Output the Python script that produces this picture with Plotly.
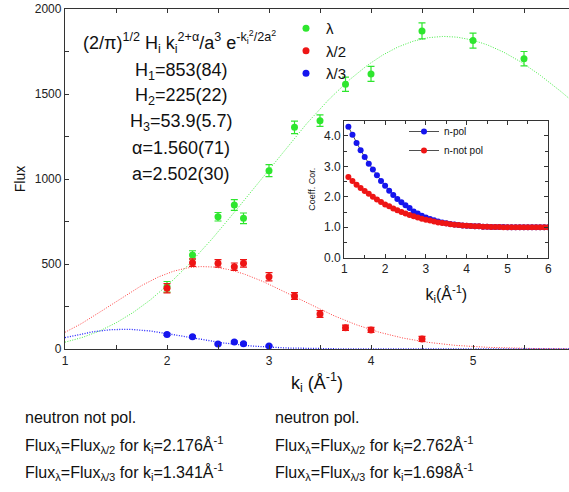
import numpy as np
import plotly.graph_objects as go

# ---------------- data ----------------
green_k = [2.0, 2.25, 2.5, 2.66, 2.75, 3.0, 3.25, 3.5, 3.75, 4.0, 4.5, 5.0, 5.5]
green_flux = [366, 553, 778, 847, 769, 1049, 1304, 1343, 1557, 1618, 1871, 1814, 1708]
green_err = [31, 25, 25, 32, 31, 35, 37, 34, 42, 44, 47, 44, 42]

red_k = [2.0, 2.25, 2.5, 2.66, 2.75, 3.0, 3.25, 3.5, 3.75, 4.0, 4.5]
red_flux = [357, 508, 504, 484, 504, 425, 312, 206, 125, 112, 59]
red_err = [27, 22, 22, 22, 22, 24, 20, 20, 15, 15, 15]

blue_k = [2.0, 2.25, 2.5, 2.66, 2.75, 3.0]
blue_flux = [86, 72, 29, 41, 31, 18]
blue_err = [6, 6, 5, 5, 5, 4]

# fit parameters shown on the chart
H1, H2, H3 = 853, 225, 53.9
ALPHA = 1.560
A_PAR = 2.502

# inset: correction coefficients
inset_k = [round(1.1 + 0.1 * i, 1) for i in range(50)]
npol = [4.30, 4.04, 3.77, 3.53, 3.31, 3.09, 2.90, 2.71, 2.52, 2.36,
        2.20, 2.06, 1.93, 1.82, 1.72, 1.63, 1.52, 1.45, 1.38, 1.32,
        1.27, 1.23, 1.19, 1.16, 1.13, 1.11, 1.09, 1.07, 1.06, 1.05,
        1.04, 1.03, 1.03, 1.02, 1.02, 1.01, 1.01, 1.01, 1.01, 1.00,
        1.00, 1.00, 1.00, 1.00, 1.00, 1.00, 1.00, 1.00, 1.00, 1.00]
nnotpol = [2.65, 2.52, 2.40, 2.29, 2.19, 2.10, 2.00, 1.91, 1.83, 1.75,
           1.69, 1.62, 1.56, 1.50, 1.45, 1.40, 1.36, 1.32, 1.28, 1.25,
           1.22, 1.19, 1.16, 1.14, 1.12, 1.10, 1.08, 1.07, 1.06, 1.05,
           1.04, 1.03, 1.03, 1.02, 1.02, 1.01, 1.01, 1.01, 1.00, 1.00,
           1.00, 1.00, 1.00, 1.00, 1.00, 1.00, 1.00, 1.00, 1.00, 1.00]

GREEN = "#2ee62e"
RED = "#ee1515"
BLUE = "#1515ee"
FONT = "Liberation Sans, Arial, sans-serif"
DOT = "1px,1.5px"


def model(k, H):
    return (np.sqrt(2 / np.pi) * H * k ** (2 + ALPHA) / A_PAR ** 3
            * np.exp(-k ** 2 / (2 * A_PAR ** 2)))


XMAX = 1 + 504 / 102
kk = np.linspace(1, XMAX, 300)

fig = go.Figure()

# fit curves
fig.add_trace(go.Scatter(x=kk, y=model(kk, H1), mode="lines", showlegend=False,
                         line=dict(color="#44ee44", width=1, dash=DOT)))
fig.add_trace(go.Scatter(x=kk, y=model(2 * kk, H2), mode="lines", showlegend=False,
                         line=dict(color="#ff4040", width=1, dash=DOT)))
fig.add_trace(go.Scatter(x=kk, y=model(3 * kk, H3), mode="lines", showlegend=False,
                         line=dict(color="#2020ff", width=1.3, dash=DOT)))

# data
for name, xs, ys, es, col in [("λ", green_k, green_flux, green_err, GREEN),
                              ("λ/2", red_k, red_flux, red_err, RED),
                              ("λ/3", blue_k, blue_flux, blue_err, BLUE)]:
    fig.add_trace(go.Scatter(
        x=xs, y=ys, mode="markers", name=name,
        marker=dict(color=col, size=7),
        error_y=dict(type="data", array=es, color=col, thickness=1.2, width=3.5),
    ))

# inset
fig.add_trace(go.Scatter(x=inset_k, y=npol, mode="lines+markers", name="n-pol",
                         xaxis="x2", yaxis="y2", legend="legend2",
                         line=dict(color="#222222", width=0.8),
                         marker=dict(color=BLUE, size=6)))
fig.add_trace(go.Scatter(x=inset_k, y=nnotpol, mode="lines+markers", name="n-not pol",
                         xaxis="x2", yaxis="y2", legend="legend2",
                         line=dict(color="#222222", width=0.8),
                         marker=dict(color=RED, size=6)))

L, T, B = 65, 9, 143
PW, PH = 504, 340
W, H = 569, 492


def px(x):
    return (x - L) / PW


def py(y):
    return (T + PH - y) / PH


ann = []
ann.append(dict(x=px(179), y=py(42),
                text="(2/π)<sup>1/2</sup> H<sub>i</sub> k<sub>i</sub><sup>2+α</sup>/a<sup>3</sup> e<sup>-k<sub>i</sub><sup>2</sup>/2a<sup>2</sup></sup>",
                font=dict(size=18)))
for yy, txt in [(71, "H<sub>1</sub>=853(84)"), (96, "H<sub>2</sub>=225(22)"),
                (122, "H<sub>3</sub>=53.9(5.7)"), (148, "α=1.560(71)"),
                (174, "a=2.502(30)")]:
    ann.append(dict(x=px(181), y=py(yy), text=txt, font=dict(size=18)))

for xx, lines in [(23, ["neutron not pol.",
                        "Flux<sub>λ</sub>=Flux<sub>λ/2</sub> for k<sub>i</sub>=2.176Å<sup>-1</sup>",
                        "Flux<sub>λ</sub>=Flux<sub>λ/3</sub> for k<sub>i</sub>=1.341Å<sup>-1</sup>"]),
                  (273, ["neutron pol.",
                         "Flux<sub>λ</sub>=Flux<sub>λ/2</sub> for k<sub>i</sub>=2.762Å<sup>-1</sup>",
                         "Flux<sub>λ</sub>=Flux<sub>λ/3</sub> for k<sub>i</sub>=1.698Å<sup>-1</sup>"])]:
    for yy, txt in zip([417, 445, 472], lines):
        ann.append(dict(x=px(xx), y=py(yy), text=txt, xanchor="left",
                        font=dict(size=16)))

for a in ann:
    a.setdefault("xanchor", "center")
    a.update(xref="paper", yref="paper", yanchor="middle", showarrow=False)
    a["font"].update(color="#111111", family=FONT)

axis_common = dict(showline=True, linecolor="#333333", linewidth=1.3,
                   ticks="inside", ticklen=4, tickcolor="#333333",
                   showgrid=False, zeroline=False, automargin=False,
                   tickfont=dict(size=12, color="#222222", family=FONT))

fig.update_layout(
    width=W, height=H,
    margin=dict(l=L, r=0, t=T, b=B, autoexpand=False),
    paper_bgcolor="white", plot_bgcolor="white",
    font=dict(family=FONT, color="#111111"),
    annotations=ann,
    xaxis=dict(range=[1, XMAX], tick0=1, dtick=1, mirror="ticks",
               minor=dict(dtick=0.5, ticks="inside", ticklen=4, tickcolor="#333333"),
               title=dict(text="k<sub>i</sub> (Å<sup>-1</sup>)", standoff=9,
                          font=dict(size=18, family=FONT, color="#111111")),
               **axis_common),
    yaxis=dict(range=[0, 2000], dtick=500, ticklabeloverflow="allow",
               minor=dict(dtick=250, ticks="inside", ticklen=4, tickcolor="#333333"),
               title=dict(text="Flux", standoff=5,
                          font=dict(size=14, family=FONT, color="#111111")),
               **axis_common),
    xaxis2=dict(domain=[px(344.3), px(548.3)], anchor="y2", range=[1, 6], dtick=1,
                mirror="ticks",
                minor=dict(dtick=0.5, ticks="inside", ticklen=3, tickcolor="#333333"),
                title=dict(text="k<sub>i</sub>(Å<sup>-1</sup>)", standoff=13,
                           font=dict(size=16, family=FONT, color="#111111")),
                **axis_common),
    yaxis2=dict(domain=[py(257.7), py(120.7)], anchor="x2", range=[0, 4.5], dtick=1,
                tickformat=".1f", mirror="ticks",
                minor=dict(dtick=0.5, ticks="inside", ticklen=3, tickcolor="#333333"),
                title=dict(text="Coeff. Cor.", standoff=6,
                           font=dict(size=9, family=FONT, color="#111111")),
                **axis_common),
    legend=dict(x=px(286), y=py(12), xanchor="left", yanchor="top",
                bgcolor="rgba(0,0,0,0)", font=dict(size=15, family=FONT, color="#111111"),
                itemwidth=30, tracegroupgap=0),
    legend2=dict(x=px(404), y=py(117), xanchor="left", yanchor="top",
                 bgcolor="rgba(0,0,0,0)", font=dict(size=10, family=FONT, color="#111111"),
                 itemwidth=30),
)

# remove the browser's default 8px body margin so the figure fills the window
fig.write_html("out.html",
               config={"displayModeBar": False},
               post_script="document.body.style.margin='0';document.body.style.overflow='hidden';")
